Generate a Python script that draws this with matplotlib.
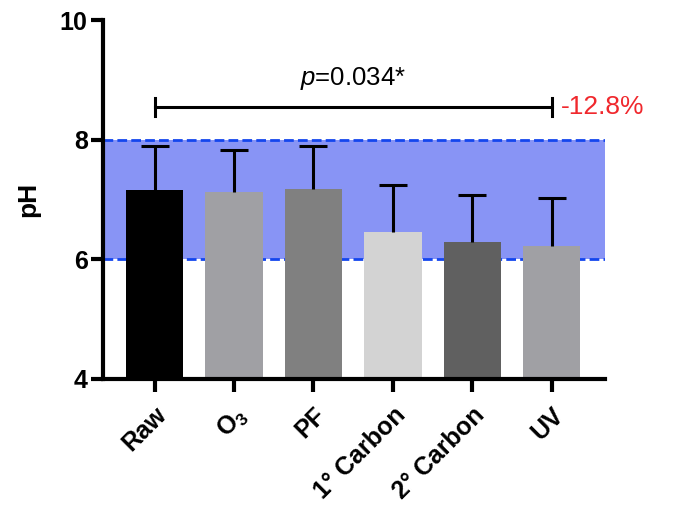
import matplotlib.pyplot as plt

plt.rcParams['font.family'] = ['Liberation Sans', 'DejaVu Sans']
plt.rcParams['mathtext.fontset'] = 'custom'
plt.rcParams['mathtext.rm'] = 'Liberation Sans'
plt.rcParams['mathtext.it'] = 'Liberation Sans:italic'
plt.rcParams['mathtext.bf'] = 'Liberation Sans:bold'

# datos
categorias = ['Raw', r'$\mathbf{O_3}$', 'PF', '1° Carbon', '2° Carbon', 'UV']
medias = [7.16, 7.13, 7.17, 6.46, 6.29, 6.23]
errores = [0.74, 0.69, 0.73, 0.79, 0.79, 0.80]
colores = ['#000000', '#A0A0A4', '#808080', '#D3D3D3', '#606060', '#A0A0A4']
rango_ph = [6, 8]
p_texto = r'$\it{p}$=0.034*'
cambio = '-12.8%'

fig = plt.figure(figsize=(6.91, 5.08), dpi=100)
ax = fig.add_axes([103/691, 1 - 379/508, (605-103)/691, (379-20)/508])

x = range(len(categorias))
ax.axhspan(rango_ph[0], rango_ph[1], color='#8894F5', zorder=0, lw=0)
for yv in rango_ph:
    ax.axhline(yv, color='#1446EE', ls=(0, (3.5, 1.5)), lw=2, zorder=1)

ax.bar(x, medias, width=0.72, color=colores, zorder=2)
eb = ax.errorbar(x, medias, yerr=[[0]*len(errores), errores], fmt='none',
                 ecolor='black', elinewidth=2.2, capsize=10, capthick=2.2, zorder=3)
# solo la tapa de arriba
eb[1][0].set_visible(False)

# barra de significancia
yb = 8.55
ax.plot([0, 5], [yb, yb], color='black', lw=2.2, clip_on=False)
ax.plot([0, 0], [yb - 0.15, yb + 0.15], color='black', lw=2.2, clip_on=False)
ax.plot([5, 5], [yb - 0.15, yb + 0.15], color='black', lw=2.2, clip_on=False)
ax.text(2.5, yb + 0.25, p_texto, ha='center', va='bottom', fontsize=18.5)
ax.text(5.12, yb, cambio, ha='left', va='center', fontsize=19, color='#F0282D')

ax.set_ylim(4, 10)
ax.set_xlim(-0.65, 5.67)
ax.set_yticks([4, 6, 8, 10])
ax.set_xticks(list(x))
ax.set_xticklabels(categorias, rotation=45, ha='right', va='top',
                   rotation_mode='anchor', fontsize=18, fontweight='bold')
for lab in ax.get_yticklabels():
    lab.set_fontsize(18)
    lab.set_fontweight('bold')
ax.set_ylabel('pH', fontsize=19, fontweight='bold', labelpad=14)

for s in ['top', 'right']:
    ax.spines[s].set_visible(False)
for s in ['left', 'bottom']:
    ax.spines[s].set_linewidth(3)
ax.tick_params(width=3, length=9, pad=2)
ax.tick_params(axis='x', pad=8)

plt.savefig('out.png', dpi=100)
